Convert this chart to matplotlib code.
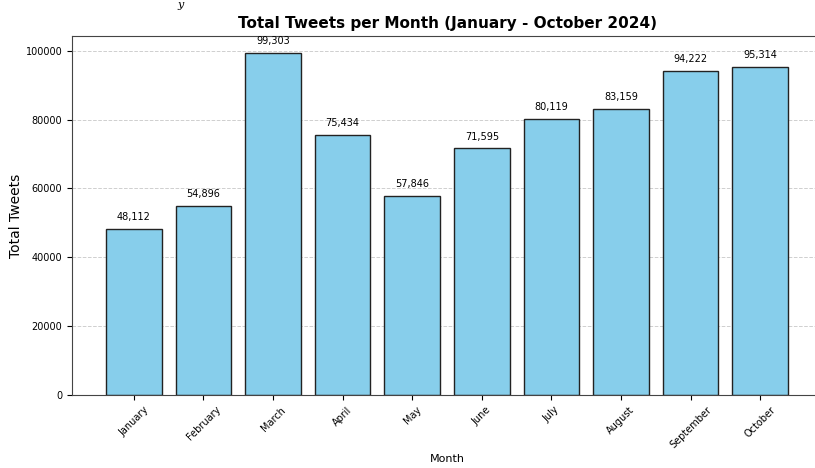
import matplotlib
matplotlib.use("Agg")
import matplotlib.pyplot as plt

months = ["January", "February", "March", "April", "May", "June",
          "July", "August", "September", "October"]
tweets = [48112, 54896, 99303, 75434, 57846, 71595, 80119, 83159, 94222, 95314]

fig = plt.figure(figsize=(8.15, 4.68), dpi=100)
ax = fig.add_axes([72/815, 1-395/468, (822-72)/815, (395-36)/468])

bars = ax.bar(months, tweets, color="skyblue", edgecolor="#222222", linewidth=1.0)
ax.grid(axis="y", linestyle="--", color="#bbbbbb", alpha=0.7, linewidth=0.7)
ax.set_axisbelow(True)

for b, v in zip(bars, tweets):
    ax.annotate(f"{v:,}", (b.get_x() + b.get_width()/2, v), xytext=(0, 5),
                textcoords="offset points", ha="center", va="bottom", fontsize=7)

ax.set_title("Total Tweets per Month (January - October 2024)", fontsize=11,
             fontweight="bold", pad=6)
ax.set_ylabel("Total Tweets", fontsize=10)
ax.yaxis.set_label_coords(-(72-22.5)/(822-72), 0.5)
ax.set_xlabel("Month", fontsize=8, va="center")
ax.xaxis.set_label_coords((447-72)/(822-72), -(459-395)/(395-36))
ax.tick_params(axis="both", labelsize=7)
plt.setp(ax.get_xticklabels(), rotation=45)
for s in ax.spines.values():
    s.set_color("#444444")

fig.text(181/815, 1.0, "y", family="DejaVu Serif", style="italic", fontsize=8,
         ha="center", va="top")

fig.savefig("out.png", dpi=100)
